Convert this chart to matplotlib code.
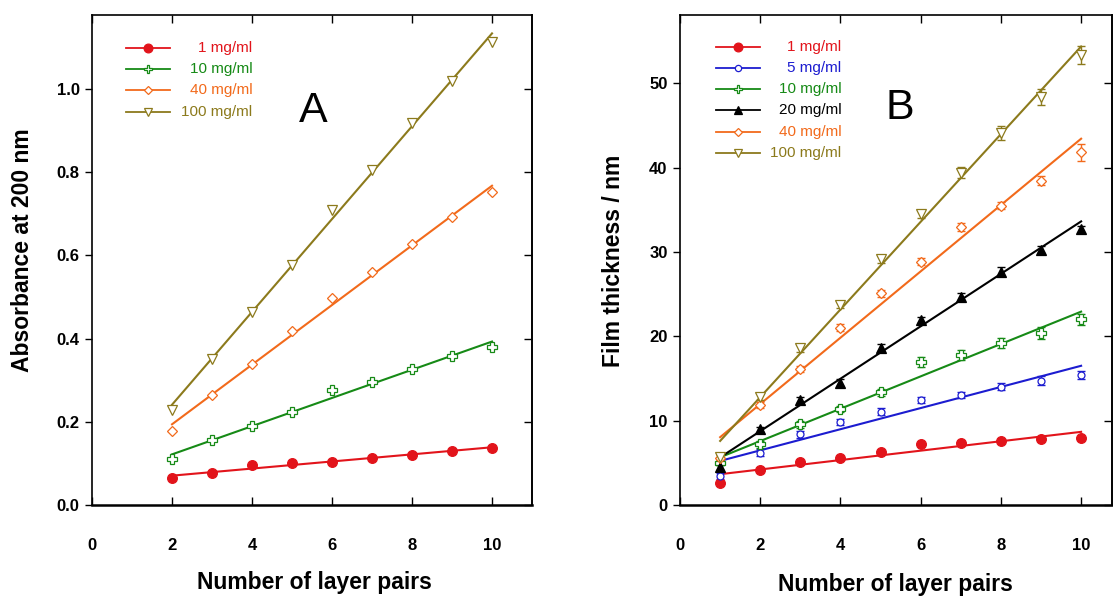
import numpy as np
import matplotlib.pyplot as plt

plt.rcParams['font.family'] = ['Liberation Sans', 'DejaVu Sans']

# panel A : absorbance at 200 nm
layers_a = [2, 3, 4, 5, 6, 7, 8, 9, 10]
abs_1 = [0.064, 0.078, 0.096, 0.100, 0.104, 0.112, 0.120, 0.130, 0.138]
abs_10 = [0.110, 0.156, 0.190, 0.223, 0.276, 0.295, 0.328, 0.358, 0.380]
abs_40 = [0.178, 0.264, 0.338, 0.418, 0.498, 0.559, 0.628, 0.692, 0.752]
abs_100 = [0.228, 0.350, 0.464, 0.576, 0.710, 0.806, 0.919, 1.020, 1.114]

# panel B : film thickness (nm)
layers_b = [1, 2, 3, 4, 5, 6, 7, 8, 9, 10]
th_1 = [2.65, 4.15, 5.06, 5.61, 6.25, 7.2, 7.39, 7.59, 7.83, 7.91]
th_5 = [3.45, 6.2, 8.39, 9.85, 11.07, 12.46, 13.05, 14.03, 14.75, 15.42]
th_10 = [5.0, 7.2, 9.57, 11.39, 13.37, 17.0, 17.79, 19.18, 20.44, 22.0]
th_20 = [4.47, 8.98, 12.46, 14.51, 18.66, 21.95, 24.7, 27.68, 30.25, 32.7]
th_40 = [5.6, 11.86, 16.13, 21.04, 25.11, 28.86, 32.94, 35.51, 38.47, 41.84]
th_100 = [5.73, 12.85, 18.59, 23.72, 29.14, 34.52, 39.42, 44.09, 48.36, 53.38]
err_1 = [0.2, 0.2, 0.2, 0.2, 0.2, 0.2, 0.2, 0.2, 0.2, 0.2]
err_5 = [0.4, 0.4, 0.4, 0.4, 0.4, 0.4, 0.4, 0.4, 0.5, 0.5]
err_10 = [0.3, 0.4, 0.4, 0.4, 0.4, 0.6, 0.6, 0.6, 0.7, 0.7]
err_20 = [0.3, 0.3, 0.4, 0.4, 0.4, 0.4, 0.4, 0.5, 0.4, 0.4]
err_40 = [0.3, 0.4, 0.4, 0.4, 0.4, 0.4, 0.5, 0.4, 0.5, 1.0]
err_100 = [0.3, 0.4, 0.4, 0.4, 0.4, 0.5, 0.6, 0.85, 0.95, 1.1]

RED = '#e2141b'
BLUE = '#1c1cd0'
GREEN = '#168a16'
BLACK = '#000000'
ORANGE = '#f26a1b'
OLIVE = '#8c7a1c'

# (label, color, marker, ms, filled)
sty_1 = ('1 mg/ml', RED, 'o', 7, True)
sty_5 = ('5 mg/ml', BLUE, 'o', 5, False)
sty_10 = ('10 mg/ml', GREEN, 'P', 6.5, False)
sty_20 = ('20 mg/ml', BLACK, '^', 6.5, True)
sty_40 = ('40 mg/ml', ORANGE, 'D', 5, False)
sty_100 = ('100 mg/ml', OLIVE, 'v', 7, False)


def serie(ax, x, y, sty, err=None):
    label, c, m, ms, filled = sty
    fc = c if filled else 'white'
    coef = np.polyfit(x, y, 1)
    xs = np.array([x[0], x[-1]])
    ax.plot(xs, np.polyval(coef, xs), color=c, lw=1.5, zorder=2)
    if err is not None:
        ax.errorbar(x, y, yerr=err, fmt='none', ecolor=c, elinewidth=1,
                    capsize=3, capthick=1, zorder=3)
    ax.plot(x, y, ls='none', marker=m, ms=ms, mfc=fc, mec=c, mew=0.9, zorder=4)


def legenda(ax, estilos, x0, x1, xt, y0, dy):
    for i, (label, c, m, ms, filled) in enumerate(estilos):
        y = y0 - i * dy
        fc = c if filled else 'white'
        ax.plot([x0, x1], [y, y], color=c, lw=1.3, transform=ax.transAxes)
        ax.plot([(x0 + x1) / 2], [y], marker=m, ms=ms * 0.9, mfc=fc, mec=c,
                mew=0.9, transform=ax.transAxes)
        ax.text(xt, y, label, color=c, ha='right', va='center', fontsize=11,
                transform=ax.transAxes)


def estilo_eixo(ax):
    for s in ax.spines.values():
        s.set_linewidth(1.2)
    ax.spines['bottom'].set_linewidth(1.8)
    ax.tick_params(axis='x', direction='in', top=True, length=6, width=1,
                   pad=24, labelsize=12)
    ax.tick_params(axis='y', direction='out', length=5, width=1, pad=4,
                   labelsize=12)
    for t in ax.get_xticklabels() + ax.get_yticklabels():
        t.set_fontweight('bold')
    sec = ax.secondary_yaxis('right')
    sec.set_yticks(ax.get_yticks())
    sec.tick_params(direction='in', length=6, width=1, labelright=False)
    sec.spines['right'].set_linewidth(1.2)


fig = plt.figure(figsize=(11.13, 5.97), dpi=100)
axA = fig.add_axes([0.0827, 0.1541, 0.3953, 0.8208])
axB = fig.add_axes([0.611, 0.1541, 0.3881, 0.8208])

# ---- A
serie(axA, layers_a, abs_1, sty_1)
serie(axA, layers_a, abs_10, sty_10)
serie(axA, layers_a, abs_40, sty_40)
serie(axA, layers_a, abs_100, sty_100)
axA.set_xlim(0, 11)
axA.set_ylim(0, 1.178)
axA.set_xticks([0, 2, 4, 6, 8, 10])
axA.set_yticks([0.0, 0.2, 0.4, 0.6, 0.8, 1.0])
axA.set_yticklabels(['0.0', '0.2', '0.4', '0.6', '0.8', '1.0'])
estilo_eixo(axA)
axA.set_xlabel('Number of layer pairs', fontsize=16.5, fontweight='bold')
axA.set_ylabel('Absorbance at 200 nm', fontsize=16.5, fontweight='bold')
axA.xaxis.set_label_coords(0.505, -0.135)
axA.yaxis.set_label_coords(-0.132, 0.52)
legenda(axA, [sty_1, sty_10, sty_40, sty_100], 0.077, 0.177, 0.364, 0.933, 0.0435)
axA.text(0.502, 0.804, 'A', fontsize=31, ha='center', va='center',
         transform=axA.transAxes)

# ---- B
serie(axB, layers_b, th_1, sty_1, err_1)
serie(axB, layers_b, th_5, sty_5, err_5)
serie(axB, layers_b, th_10, sty_10, err_10)
serie(axB, layers_b, th_20, sty_20, err_20)
serie(axB, layers_b, th_40, sty_40, err_40)
serie(axB, layers_b, th_100, sty_100, err_100)
axB.set_xlim(0, 10.77)
axB.set_ylim(0, 58.1)
axB.set_xticks([0, 2, 4, 6, 8, 10])
axB.set_yticks([0, 10, 20, 30, 40, 50])
estilo_eixo(axB)
axB.set_xlabel('Number of layer pairs', fontsize=16.5, fontweight='bold')
axB.set_ylabel('Film thickness / nm', fontsize=16.5, fontweight='bold')
axB.xaxis.set_label_coords(0.498, -0.139)
axB.yaxis.set_label_coords(-0.127, 0.498)
legenda(axB, [sty_1, sty_5, sty_10, sty_20, sty_40, sty_100],
        0.083, 0.185, 0.373, 0.935, 0.0433)
axB.text(0.509, 0.81, 'B', fontsize=31, ha='center', va='center',
         transform=axB.transAxes)

fig.savefig('out.png', dpi=100)
